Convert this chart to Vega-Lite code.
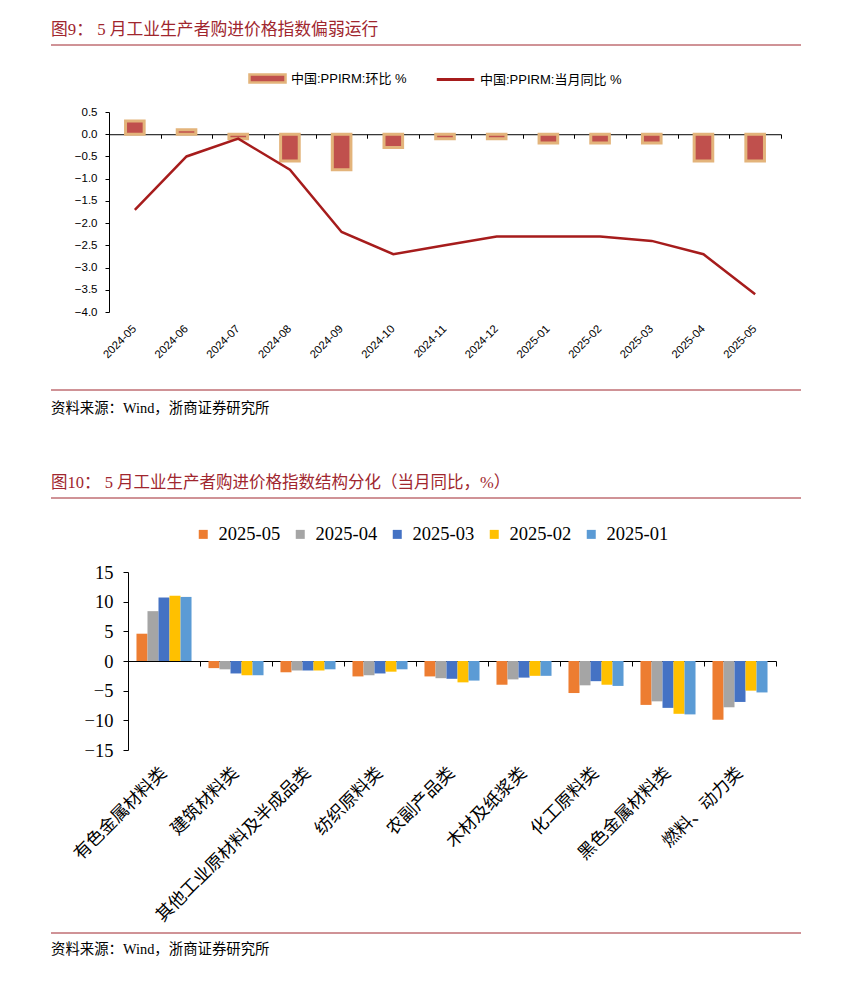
{
  "$schema": "https://vega.github.io/schema/vega-lite/v6.json",
  "background": "white",
  "padding": {"left": 50, "top": 21, "right": 10, "bottom": 0},
  "config": {
    "view": {"stroke": null},
    "axis": {"grid": false},
    "legend": {"padding": 0},
    "title": {"fontWeight": "normal"}
  },
  "concat": [
    {
      "concat": [
        {
          "width": 750,
          "height": 14,
          "title": {"text": "图9：  5 月工业生产者购进价格指数偏弱运行", "anchor": "start", "frame": "group", "offset": 6, "font": "Liberation Serif, Noto Sans CJK SC", "fontSize": 16.8, "color": "#a0262e"},
          "data": {"values": [{}]},
          "mark": {"type": "rule", "color": "#a0262e", "strokeWidth": 1},
          "encoding": {"y": {"datum": 1, "type": "quantitative", "scale": {"domain": [0, 1]}, "axis": null}}
        },
        {
          "hconcat": [
            {
              "width": 1,
              "height": 1,
              "data": {"values": [{}]},
              "mark": {"type": "point", "opacity": 0, "size": 0},
              "encoding": {}
            },
            {
              "width": 672,
              "height": 200,
              "data": {
                "values": [
                  {"month": "2024-05", "mom": 0.3, "yoy": -1.7},
                  {"month": "2024-06", "mom": 0.1, "yoy": -0.5},
                  {"month": "2024-07", "mom": -0.1, "yoy": -0.1},
                  {"month": "2024-08", "mom": -0.6, "yoy": -0.8},
                  {"month": "2024-09", "mom": -0.8, "yoy": -2.2},
                  {"month": "2024-10", "mom": -0.3, "yoy": -2.7},
                  {"month": "2024-11", "mom": -0.1, "yoy": -2.5},
                  {"month": "2024-12", "mom": -0.1, "yoy": -2.3},
                  {"month": "2025-01", "mom": -0.2, "yoy": -2.3},
                  {"month": "2025-02", "mom": -0.2, "yoy": -2.3},
                  {"month": "2025-03", "mom": -0.2, "yoy": -2.4},
                  {"month": "2025-04", "mom": -0.6, "yoy": -2.7},
                  {"month": "2025-05", "mom": -0.6, "yoy": -3.6}
                ]
              },
              "layer": [
                {
                  "mark": {"type": "bar", "stroke": "#e3b47b", "strokeWidth": 3, "width": {"band": 0.36}},
                  "encoding": {
                    "x": {"field": "month", "type": "ordinal", "scale": {"paddingInner": 0, "paddingOuter": 0},
                      "axis": {"orient": "bottom", "title": null, "domain": false, "ticks": false, "labelAngle": -45, "labelAlign": "right", "labelBaseline": "middle", "labelPadding": 15, "labelFont": "Liberation Sans", "labelFontSize": 11.3, "labelColor": "#000"}},
                    "y": {"field": "mom", "type": "quantitative", "scale": {"domain": [-4, 0.5], "nice": false, "zero": false},
                      "axis": {"title": null, "values": [0.5, 0, -0.5, -1, -1.5, -2, -2.5, -3, -3.5, -4], "format": ".1f", "domainColor": "#000", "tickColor": "#000", "tickSize": 4, "labelPadding": 8, "labelFont": "Liberation Sans", "labelFontSize": 11.5, "labelColor": "#000", "minExtent": 57}},
                    "fill": {"datum": "中国:PPIRM:环比 %", "scale": {"range": ["#c0504d"]},
                      "legend": {"title": null, "orient": "none", "legendX": 139, "legendY": -53, "symbolType": "M-1,-0.22H1V0.22H-1Z", "symbolSize": 1300, "symbolStrokeColor": "#e3b47b", "symbolStrokeWidth": 2.5, "labelFont": "Liberation Sans, Noto Sans CJK SC", "labelFontSize": 13, "labelColor": "#000", "labelOffset": 4}}
                  }
                },
                {
                  "mark": {"type": "line", "strokeWidth": 2.5},
                  "encoding": {
                    "x": {"field": "month", "type": "ordinal",
                      "axis": {"orient": "bottom", "title": null, "offset": -177.78, "labels": false, "domain": true, "domainColor": "#000", "ticks": true, "tickBand": "extent", "tickSize": 4, "tickColor": "#000"}},
                    "y": {"field": "yoy", "type": "quantitative", "scale": {"domain": [-4, 0.5], "nice": false, "zero": false},
                      "axis": {"title": null, "values": [0.5, 0, -0.5, -1, -1.5, -2, -2.5, -3, -3.5, -4], "format": ".1f", "domainColor": "#000", "tickColor": "#000", "tickSize": 4, "labelPadding": 8, "labelFont": "Liberation Sans", "labelFontSize": 11.5, "labelColor": "#000", "minExtent": 57}},
                    "stroke": {"datum": "中国:PPIRM:当月同比 %", "scale": {"range": ["#a61c1c"]},
                      "legend": {"title": null, "orient": "none", "legendX": 326, "legendY": -53, "symbolType": "stroke", "symbolSize": 1400, "symbolStrokeWidth": 3, "labelFont": "Liberation Sans, Noto Sans CJK SC", "labelFontSize": 13, "labelColor": "#000", "labelOffset": 4}}
                  }
                }
              ],
              "resolve": {"axis": {"x": "independent"}}
            }
          ],
          "spacing": 0,
          "resolve": {"scale": {"color": "independent", "fill": "independent", "stroke": "independent"}}
        },
        {
          "width": 750,
          "height": 29,
          "title": {"text": "资料来源：Wind，浙商证券研究所", "orient": "bottom", "anchor": "start", "frame": "group", "offset": 11, "font": "Liberation Serif, Noto Sans CJK SC", "fontSize": 14.4, "color": "#000"},
          "data": {"values": [{}]},
          "mark": {"type": "rule", "color": "#a0262e", "strokeWidth": 1},
          "encoding": {"y": {"datum": 0, "type": "quantitative", "scale": {"domain": [0, 1]}, "axis": null}}
        }
      ],
      "columns": 1,
      "spacing": 0,
      "resolve": {"scale": {"color": "independent", "fill": "independent", "stroke": "independent"}}
    },
    {
      "concat": [
        {
          "width": 750,
          "height": 27,
          "title": {"text": "图10：  5 月工业生产者购进价格指数结构分化（当月同比，%）", "anchor": "start", "frame": "group", "offset": 6, "font": "Liberation Serif, Noto Sans CJK SC", "fontSize": 16.5, "color": "#a0262e"},
          "data": {"values": [{}]},
          "mark": {"type": "rule", "color": "#a0262e", "strokeWidth": 1},
          "encoding": {"y": {"datum": 1, "type": "quantitative", "scale": {"domain": [0, 1]}, "axis": null}}
        },
        {
          "hconcat": [
            {
              "width": 1,
              "height": 1,
              "data": {"values": [{}]},
              "mark": {"type": "point", "opacity": 0, "size": 0},
              "encoding": {}
            },
            {
              "width": 648,
              "height": 178,
              "data": {
                "values": [
                  {"cat": "有色金属材料类", "month": "2025-05", "value": 4.6},
                  {"cat": "有色金属材料类", "month": "2025-04", "value": 8.4},
                  {"cat": "有色金属材料类", "month": "2025-03", "value": 10.7},
                  {"cat": "有色金属材料类", "month": "2025-02", "value": 11.0},
                  {"cat": "有色金属材料类", "month": "2025-01", "value": 10.8},
                  {"cat": "建筑材料类", "month": "2025-05", "value": -1.2},
                  {"cat": "建筑材料类", "month": "2025-04", "value": -1.4},
                  {"cat": "建筑材料类", "month": "2025-03", "value": -2.1},
                  {"cat": "建筑材料类", "month": "2025-02", "value": -2.4},
                  {"cat": "建筑材料类", "month": "2025-01", "value": -2.4},
                  {"cat": "其他工业原材料及半成品类", "month": "2025-05", "value": -1.9},
                  {"cat": "其他工业原材料及半成品类", "month": "2025-04", "value": -1.6},
                  {"cat": "其他工业原材料及半成品类", "month": "2025-03", "value": -1.6},
                  {"cat": "其他工业原材料及半成品类", "month": "2025-02", "value": -1.6},
                  {"cat": "其他工业原材料及半成品类", "month": "2025-01", "value": -1.4},
                  {"cat": "纺织原料类", "month": "2025-05", "value": -2.6},
                  {"cat": "纺织原料类", "month": "2025-04", "value": -2.4},
                  {"cat": "纺织原料类", "month": "2025-03", "value": -2.1},
                  {"cat": "纺织原料类", "month": "2025-02", "value": -1.8},
                  {"cat": "纺织原料类", "month": "2025-01", "value": -1.4},
                  {"cat": "农副产品类", "month": "2025-05", "value": -2.6},
                  {"cat": "农副产品类", "month": "2025-04", "value": -2.9},
                  {"cat": "农副产品类", "month": "2025-03", "value": -3.0},
                  {"cat": "农副产品类", "month": "2025-02", "value": -3.6},
                  {"cat": "农副产品类", "month": "2025-01", "value": -3.3},
                  {"cat": "木材及纸浆类", "month": "2025-05", "value": -4.0},
                  {"cat": "木材及纸浆类", "month": "2025-04", "value": -3.1},
                  {"cat": "木材及纸浆类", "month": "2025-03", "value": -2.8},
                  {"cat": "木材及纸浆类", "month": "2025-02", "value": -2.5},
                  {"cat": "木材及纸浆类", "month": "2025-01", "value": -2.5},
                  {"cat": "化工原料类", "month": "2025-05", "value": -5.4},
                  {"cat": "化工原料类", "month": "2025-04", "value": -4.1},
                  {"cat": "化工原料类", "month": "2025-03", "value": -3.4},
                  {"cat": "化工原料类", "month": "2025-02", "value": -4.0},
                  {"cat": "化工原料类", "month": "2025-01", "value": -4.2},
                  {"cat": "黑色金属材料类", "month": "2025-05", "value": -7.4},
                  {"cat": "黑色金属材料类", "month": "2025-04", "value": -6.8},
                  {"cat": "黑色金属材料类", "month": "2025-03", "value": -7.9},
                  {"cat": "黑色金属材料类", "month": "2025-02", "value": -8.9},
                  {"cat": "黑色金属材料类", "month": "2025-01", "value": -9.0},
                  {"cat": "燃料、动力类", "month": "2025-05", "value": -9.9},
                  {"cat": "燃料、动力类", "month": "2025-04", "value": -7.8},
                  {"cat": "燃料、动力类", "month": "2025-03", "value": -6.9},
                  {"cat": "燃料、动力类", "month": "2025-02", "value": -5.0},
                  {"cat": "燃料、动力类", "month": "2025-01", "value": -5.3}
                ]
              },
              "layer": [
                {
                  "mark": {"type": "bar"},
                  "encoding": {
                    "x": {"field": "cat", "type": "nominal", "sort": null, "scale": {"paddingInner": 0, "paddingOuter": 0},
                      "axis": {"orient": "bottom", "title": null, "domain": false, "ticks": false, "labelAngle": -45, "labelAlign": "right", "labelBaseline": "middle", "labelPadding": 20, "labelFont": "Noto Sans CJK SC", "labelFontSize": 17.5, "labelColor": "#000", "labelLimit": 400}},
                    "xOffset": {"field": "month", "type": "nominal", "sort": ["2025-05", "2025-04", "2025-03", "2025-02", "2025-01"], "scale": {"paddingInner": 0, "paddingOuter": 0.77}},
                    "y": {"field": "value", "type": "quantitative", "scale": {"domain": [-15, 15], "nice": false},
                      "axis": {"title": null, "values": [15, 10, 5, 0, -5, -10, -15], "domainColor": "#000", "tickColor": "#000", "tickSize": 5, "labelPadding": 10, "labelFont": "Liberation Serif", "labelFontSize": 18.5, "labelColor": "#000", "minExtent": 76}},
                    "color": {"field": "month", "type": "nominal", "sort": ["2025-05", "2025-04", "2025-03", "2025-02", "2025-01"],
                      "scale": {"domain": ["2025-05", "2025-04", "2025-03", "2025-02", "2025-01"], "range": ["#ed7d31", "#a5a5a5", "#4472c4", "#ffc000", "#5b9bd5"]},
                      "legend": {"title": null, "orient": "none", "legendX": 66, "legendY": -47, "direction": "horizontal", "symbolType": "square", "symbolSize": 81, "symbolStrokeWidth": 0, "labelFont": "Liberation Serif", "labelFontSize": 18.5, "labelColor": "#000", "labelOffset": 6, "columnPadding": 10}}
                  }
                },
                {
                  "mark": {"type": "point", "opacity": 0},
                  "encoding": {
                    "x": {"field": "cat", "type": "nominal", "sort": null,
                      "axis": {"orient": "bottom", "title": null, "offset": -89, "labels": false, "domain": true, "domainColor": "#000", "ticks": true, "tickBand": "extent", "tickSize": 5, "tickColor": "#000"}},
                    "y": {"field": "value", "type": "quantitative", "scale": {"domain": [-15, 15], "nice": false},
                      "axis": {"title": null, "values": [15, 10, 5, 0, -5, -10, -15], "domainColor": "#000", "tickColor": "#000", "tickSize": 5, "labelPadding": 10, "labelFont": "Liberation Serif", "labelFontSize": 18.5, "labelColor": "#000", "minExtent": 76}}
                  }
                }
              ],
              "resolve": {"axis": {"x": "independent"}}
            }
          ],
          "spacing": 0,
          "resolve": {"scale": {"color": "independent", "fill": "independent", "stroke": "independent"}}
        },
        {
          "width": 750,
          "height": 8,
          "title": {"text": "资料来源：Wind，浙商证券研究所", "orient": "bottom", "anchor": "start", "frame": "group", "offset": 9, "font": "Liberation Serif, Noto Sans CJK SC", "fontSize": 14.4, "color": "#000"},
          "data": {"values": [{}]},
          "mark": {"type": "rule", "color": "#a0262e", "strokeWidth": 1},
          "encoding": {"y": {"datum": 0, "type": "quantitative", "scale": {"domain": [0, 1]}, "axis": null}}
        }
      ],
      "columns": 1,
      "spacing": 0,
      "resolve": {"scale": {"color": "independent", "fill": "independent", "stroke": "independent"}}
    }
  ],
  "columns": 1,
  "spacing": 60,
  "resolve": {"scale": {"color": "independent", "fill": "independent", "stroke": "independent"}}
}
